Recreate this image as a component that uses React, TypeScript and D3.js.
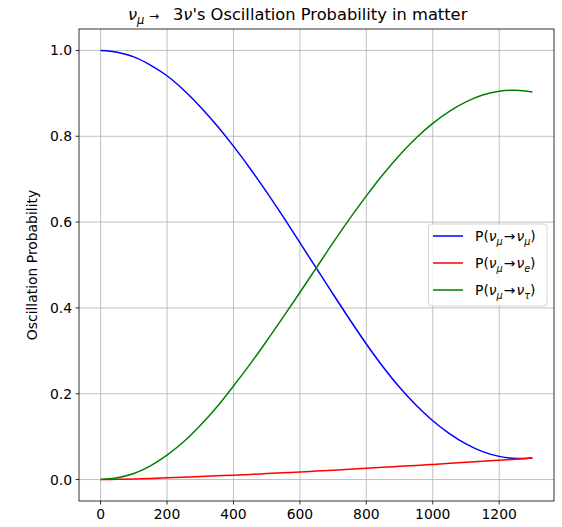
import React from 'react';
import * as d3 from 'd3';

// Baseline distance (km) and read-off probabilities
const distances = [0, 50, 100, 150, 200, 250, 300, 350, 400, 450, 500, 550, 600, 650, 700, 750, 800, 850, 900, 950, 1000, 1050, 1100, 1150, 1200, 1250, 1300];
const pMuMu = [1.0, 0.996, 0.985, 0.966, 0.941, 0.908, 0.869, 0.825, 0.777, 0.725, 0.670, 0.612, 0.552, 0.492, 0.432, 0.373, 0.316, 0.263, 0.215, 0.173, 0.137, 0.107, 0.083, 0.065, 0.054, 0.049, 0.050];
const pMuE = [0, 0.0004, 0.0013, 0.0025, 0.004, 0.0055, 0.007, 0.0086, 0.0102, 0.012, 0.0138, 0.0157, 0.0177, 0.0197, 0.0218, 0.024, 0.0262, 0.0284, 0.0307, 0.033, 0.0353, 0.0377, 0.0401, 0.0425, 0.045, 0.0475, 0.050];
const pMuTau = [0, 0.004, 0.014, 0.032, 0.057, 0.088, 0.126, 0.169, 0.218, 0.269, 0.323, 0.379, 0.436, 0.494, 0.552, 0.608, 0.661, 0.711, 0.756, 0.796, 0.830, 0.858, 0.880, 0.896, 0.905, 0.907, 0.903];
const xTicks = [0, 200, 400, 600, 800, 1000, 1200];
const yTicks = [0.0, 0.2, 0.4, 0.6, 0.8, 1.0];
const seriesNames = ['μ', 'e', 'τ'];
const seriesColors = ['#0000ff', '#ff0000', '#008000'];

const FONT = '"DejaVu Sans", sans-serif';

function LegendLabel({ x, y, sub }: { x: number; y: number; sub: string }) {
  return (
    <text x={x} y={y} fontSize={13.9} fontFamily={FONT} fill="#000">
      <tspan>P(</tspan>
      <tspan fontStyle="italic">ν</tspan>
      <tspan fontStyle="italic" fontSize={9.7} dy={3.5}>μ</tspan>
      <tspan dy={-3.5} dx={1}>→</tspan>
      <tspan fontStyle="italic" dx={1}>ν</tspan>
      <tspan fontStyle="italic" fontSize={9.7} dy={3.5}>{sub}</tspan>
      <tspan dy={-3.5}>)</tspan>
    </text>
  );
}

export default function App() {
  const W = 562, H = 527;
  const left = 79, right = 554, top = 29, bottom = 501;
  const x = d3.scaleLinear().domain([-65, 1365]).range([left, right]);
  const y = d3.scaleLinear().domain([-0.05, 1.05]).range([bottom, top]);
  const series = [pMuMu, pMuE, pMuTau];
  const line = d3
    .line<number>()
    .x((_, i) => x(distances[i]))
    .y((d) => y(d))
    .curve(d3.curveCatmullRom);

  const legX = 428.5, legY = 224;
  const legW = 118.5, legH = 82;
  const rowY = [236, 263, 290];

  return (
    <svg
      width={W}
      height={H}
      style={{ position: 'absolute', left: 0, top: 0, background: '#fff' }}
      fontFamily={FONT}
    >
      <rect x={0} y={0} width={W} height={H} fill="#fff" />
      {/* grid */}
      {xTicks.map((t) => (
        <line key={'gx' + t} x1={x(t)} x2={x(t)} y1={top} y2={bottom} stroke="#b0b0b0" strokeWidth={0.8} />
      ))}
      {yTicks.map((t) => (
        <line key={'gy' + t} x1={left} x2={right} y1={y(t)} y2={y(t)} stroke="#b0b0b0" strokeWidth={0.8} />
      ))}
      {/* series */}
      {series.map((s, i) => (
        <path key={'s' + i} d={line(s) || ''} fill="none" stroke={seriesColors[i]} strokeWidth={1.5} />
      ))}
      {/* spines */}
      <rect x={left} y={top} width={right - left} height={bottom - top} fill="none" stroke="#000" strokeWidth={0.8} />
      {/* x ticks */}
      {xTicks.map((t) => (
        <g key={'xt' + t}>
          <line x1={x(t)} x2={x(t)} y1={bottom} y2={bottom + 3.5} stroke="#000" strokeWidth={0.8} />
          <text x={x(t)} y={bottom + 18} fontSize={13.9} textAnchor="middle" fill="#000">
            {t}
          </text>
        </g>
      ))}
      {/* y ticks */}
      {yTicks.map((t) => (
        <g key={'yt' + t}>
          <line x1={left - 3.5} x2={left} y1={y(t)} y2={y(t)} stroke="#000" strokeWidth={0.8} />
          <text x={left - 7} y={y(t) + 5} fontSize={13.9} textAnchor="end" fill="#000">
            {t.toFixed(1)}
          </text>
        </g>
      ))}
      {/* y label */}
      <text
        transform={`translate(37, ${(top + bottom) / 2}) rotate(-90)`}
        fontSize={13.9}
        textAnchor="middle"
        fill="#000"
      >
        Oscillation Probability
      </text>
      {/* title */}
      <text x={128} y={20} fontSize={16.3} textAnchor="start" fill="#000">
        <tspan fontStyle="italic">ν</tspan>
        <tspan fontStyle="italic" fontSize={11.5} dy={4}>μ</tspan>
        <tspan dy={-4} x={149} fontSize={12}>→</tspan>
        <tspan x={173}>3</tspan>
        <tspan fontStyle="italic">ν</tspan>
        <tspan>'s Oscillation Probability in matter</tspan>
      </text>
      {/* legend */}
      <rect x={legX} y={legY} width={legW} height={legH} rx={3} fill="#fff" fillOpacity={0.8} stroke="#cccccc" strokeWidth={0.8} />
      {seriesNames.map((n, i) => (
        <g key={'lg' + i}>
          <line x1={433} x2={463} y1={rowY[i]} y2={rowY[i]} stroke={seriesColors[i]} strokeWidth={1.5} />
          <LegendLabel x={475} y={rowY[i] + 5} sub={n} />
        </g>
      ))}
    </svg>
  );
}
